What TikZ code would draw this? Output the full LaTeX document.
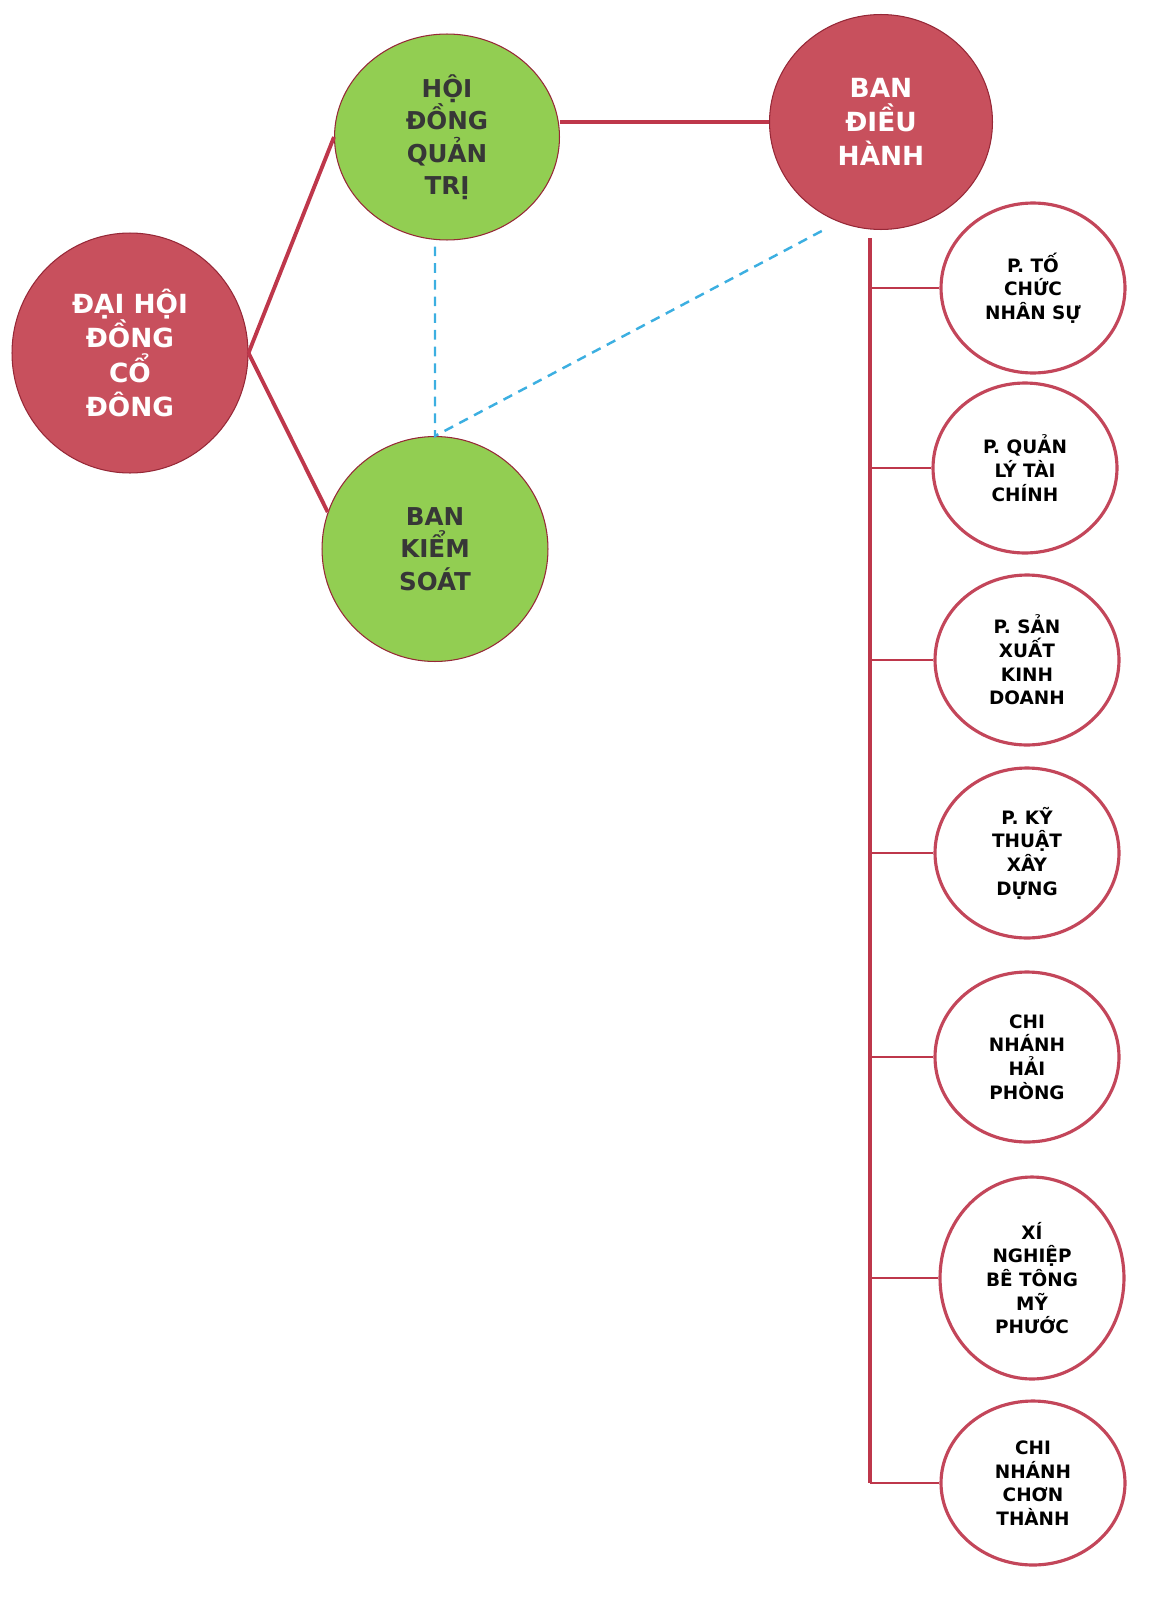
\documentclass[tikz,border=0pt]{standalone}
\usepackage{fontspec}
\setmainfont{DejaVu Sans}
\usetikzlibrary{shapes.geometric}

\definecolor{nenDo}{RGB}{200,80,93}
\definecolor{vienDo}{RGB}{150,40,55}
\definecolor{nenXanh}{RGB}{146,206,82}
\definecolor{chuXam}{RGB}{55,55,55}
\definecolor{duongDo}{RGB}{190,55,75}
\definecolor{vienHong}{RGB}{195,70,90}
\definecolor{netXanh}{RGB}{60,175,225}

\begin{document}
\begin{tikzpicture}[x=0.02cm, y=-0.02cm,
    khoiDo/.style={ellipse, fill=nenDo, draw=vienDo, line width=0.6pt, text=white,
      font=\bfseries\fontsize{15}{19.5}\selectfont, align=center, inner sep=0pt},
    khoiXanh/.style={ellipse, fill=nenXanh, draw=vienDo, line width=0.6pt, text=chuXam,
      font=\bfseries\fontsize{14}{18.5}\selectfont, align=center, inner sep=0pt},
    phong/.style={ellipse, fill=white, draw=vienHong, line width=1.8pt, text=black,
      font=\bfseries\fontsize{10.5}{13.5}\selectfont, align=center, inner sep=0pt,
      minimum width=3.68cm, minimum height=3.4cm},
    noi/.style={draw=duongDo, line width=2.2pt},
    nhanh/.style={draw=duongDo, line width=1.6pt},
    netdut/.style={draw=netXanh, line width=1.4pt, dash pattern=on 5.5pt off 4pt}]

    \useasboundingbox (0,0) rectangle (1149,1602);

    % Khối lãnh đạo
    \node[khoiDo, minimum width=4.72cm, minimum height=4.8cm] (dhdcd) at (130,353)
      {ĐẠI HỘI\\ĐỒNG\\CỔ\\ĐÔNG};
    \node[khoiXanh, minimum width=4.5cm, minimum height=4.12cm] (hdqt) at (447,137)
      {HỘI\\ĐỒNG\\QUẢN\\TRỊ};
    \node[khoiDo, minimum width=4.46cm, minimum height=4.3cm] (bdh) at (881,122)
      {BAN\\ĐIỀU\\HÀNH};
    \node[khoiXanh, minimum width=4.52cm, minimum height=4.5cm] (bks) at (435,549)
      {BAN\\KIỂM\\SOÁT};

    % Phòng ban
    \node[phong] (p1) at (1033,288) {P. TỐ\\CHỨC\\NHÂN SỰ};
    \node[phong] (p2) at (1025,468) {P. QUẢN\\LÝ TÀI\\CHÍNH};
    \node[phong] (p3) at (1027,660) {P. SẢN\\XUẤT\\KINH\\DOANH};
    \node[phong] (p4) at (1027,853) {P. KỸ\\THUẬT\\XÂY\\DỰNG};
    \node[phong] (p5) at (1027,1057) {CHI\\NHÁNH\\HẢI\\PHÒNG};
    \node[phong, minimum height=4.04cm] (p6) at (1032,1278) {XÍ\\NGHIỆP\\BÊ TÔNG\\MỸ\\PHƯỚC};
    \node[phong, minimum height=3.28cm] (p7) at (1033,1483) {CHI\\NHÁNH\\CHƠN\\THÀNH};

    % Đường nối
    \draw[noi] (dhdcd.east) -- (hdqt.west);
    \draw[noi] (dhdcd.east) -- (bks.161);
    \draw[noi] (bdh.west) -- (bdh.west -| hdqt.east);

    % Nét đứt
    \draw[netdut] (bks.north |- hdqt.south) ++(0,6) -- (bks.north) -- ([shift={(-6,10)}]bdh.243);

    % Trục phòng ban
    \coordinate (truc) at (870,238);
    \draw[noi] (truc) -- (truc |- p7.west);
    \draw[nhanh] (truc |- p7.west) -- (p7.west);
    \foreach \p in {p1,p2,p3,p4,p5,p6}
      \draw[nhanh] (truc |- \p.west) -- (\p.west);

\end{tikzpicture}
\end{document}
